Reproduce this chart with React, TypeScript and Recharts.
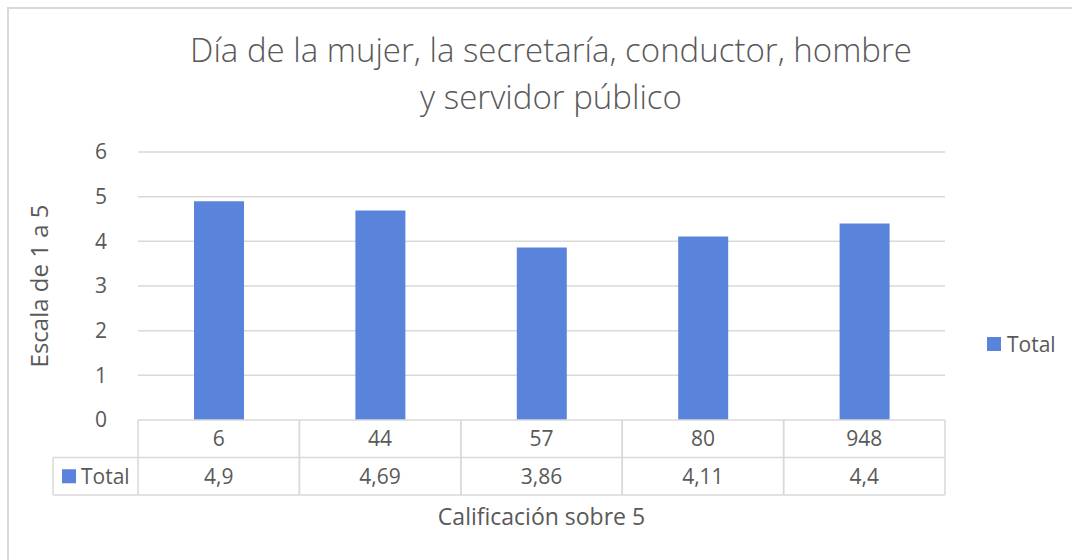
import React from 'react';
import { BarChart, Bar, XAxis, YAxis, CartesianGrid } from 'recharts';

const categories: string[] = ['6', '44', '57', '80', '948'];
const totals: number[] = [4.9, 4.69, 3.86, 4.11, 4.4];
const yTicks: number[] = [0, 1, 2, 3, 4, 5, 6];
const seriesName = 'Total';
const titleLines: string[] = ['Día de la mujer, la secretaría, conductor, hombre', 'y servidor público'];
const xTitle = 'Calificación sobre 5';
const yTitle = 'Escala de 1 a 5';

const data = categories.map((c, i) => ({ cat: c, total: totals[i] }));

const FONT = '"Open Sans", "Noto Sans", sans-serif';
const TEXT = '#595959';
const GRID = '#d9d9d9';
const BAR = '#5A84DB';

const W = 1072;
const H = 560;
const M = { top: 152, right: 127, left: 0, bottom: 0 };
const Y_AXIS_W = 138;
const X_AXIS_H = 140;
const plotW = W - M.left - M.right - Y_AXIS_W;
const cellW = plotW / categories.length;
const ROW_H = 37.5;
const LEGEND_CELL_W = 85;
const TICK_FS = 21;

const fmt = (v: number) => String(v).replace('.', ',');

const TableTick = (props: any) => {
  const { x, y, payload, index } = props;
  const left = x - cellW / 2;
  const right = x + cellW / 2;
  const r1 = y;
  const r2 = y + ROW_H;
  const r3 = y + ROW_H * 2;
  const val = totals[index];
  return (
    <g>
      <line x1={left} y1={r1} x2={right} y2={r1} stroke={GRID} strokeWidth={1.5} />
      <line x1={left} y1={r2} x2={right} y2={r2} stroke={GRID} strokeWidth={1.5} />
      <line x1={left} y1={r3} x2={right} y2={r3} stroke={GRID} strokeWidth={1.5} />
      <line x1={left} y1={r1} x2={left} y2={r3} stroke={GRID} strokeWidth={1.5} />
      <line x1={right} y1={r1} x2={right} y2={r3} stroke={GRID} strokeWidth={1.5} />
      <text x={x} y={r1 + ROW_H / 2} dy="0.36em" textAnchor="middle" fill={TEXT} fontSize={TICK_FS} fontFamily={FONT}>
        {payload.value}
      </text>
      <text x={x} y={r2 + ROW_H / 2} dy="0.36em" textAnchor="middle" fill={TEXT} fontSize={TICK_FS} fontFamily={FONT}>
        {fmt(val)}
      </text>
      {index === 0 && (
        <g>
          <line x1={left - LEGEND_CELL_W} y1={r2} x2={left} y2={r2} stroke={GRID} strokeWidth={1.5} />
          <line x1={left - LEGEND_CELL_W} y1={r3} x2={left} y2={r3} stroke={GRID} strokeWidth={1.5} />
          <line x1={left - LEGEND_CELL_W} y1={r2} x2={left - LEGEND_CELL_W} y2={r3} stroke={GRID} strokeWidth={1.5} />
          <rect x={left - LEGEND_CELL_W + 9} y={r2 + ROW_H / 2 - 7} width={14} height={14} fill={BAR} />
          <text x={left - LEGEND_CELL_W + 28} y={r2 + ROW_H / 2} dy="0.36em" fill={TEXT} fontSize={TICK_FS} fontFamily={FONT}>
            {seriesName}
          </text>
        </g>
      )}
    </g>
  );
};

const YLabel = (props: any) => {
  const { viewBox } = props;
  const cx = 39;
  const cy = viewBox.y + viewBox.height / 2;
  return (
    <text
      x={cx}
      y={cy}
      transform={`rotate(-90, ${cx}, ${cy})`}
      textAnchor="middle"
      dy="0.36em"
      fill={TEXT}
      fontSize={24}
      fontFamily={FONT}
    >
      {yTitle}
    </text>
  );
};

export default function App() {
  return (
    <div style={{ position: 'absolute', left: 0, top: 0, width: W, height: H, background: '#fff', fontFamily: FONT }}>
      <div
        style={{
          position: 'absolute',
          left: 7,
          top: 7,
          width: W,
          height: H,
          borderTop: `2px solid ${GRID}`,
          borderLeft: `2px solid ${GRID}`,
          boxSizing: 'border-box',
        }}
      />
      <div
        style={{
          position: 'absolute',
          left: 0,
          top: 26,
          width: 1102,
          textAlign: 'center',
          color: TEXT,
          fontSize: 33,
          fontWeight: 300,
          lineHeight: '47px',
        }}
      >
        {titleLines.map((t, i) => (
          <div key={i}>{t}</div>
        ))}
      </div>
      <div style={{ position: 'absolute', left: 0, top: 0 }}>
        <BarChart width={W} height={H} data={data} margin={M} barSize={50}>
          <CartesianGrid vertical={false} stroke={GRID} strokeWidth={1.5} horizontalValues={[1, 2, 3, 4, 5, 6]} />
          <XAxis
            dataKey="cat"
            height={X_AXIS_H}
            axisLine={false}
            tickLine={false}
            tickSize={0}
            tickMargin={0}
            tick={<TableTick />}
            interval={0}
            label={{ value: xTitle, position: 'insideBottom', offset: 35, fill: TEXT, fontSize: 23, fontFamily: FONT }}
          />
          <YAxis
            width={Y_AXIS_W}
            domain={[0, 6]}
            ticks={yTicks}
            axisLine={false}
            tickLine={false}
            tickSize={0}
            tickMargin={31}
            tick={{ fill: TEXT, fontSize: TICK_FS, fontFamily: FONT }}
            label={<YLabel />}
          />
          <Bar dataKey="total" name={seriesName} fill={BAR} isAnimationActive={false} />
        </BarChart>
      </div>
      <div
        style={{
          position: 'absolute',
          left: 987,
          top: 329,
          height: 30,
          display: 'flex',
          alignItems: 'center',
          color: TEXT,
          fontSize: TICK_FS,
        }}
      >
        <span style={{ display: 'inline-block', width: 14, height: 14, background: BAR, marginRight: 6 }} />
        <span>{seriesName}</span>
      </div>
    </div>
  );
}
